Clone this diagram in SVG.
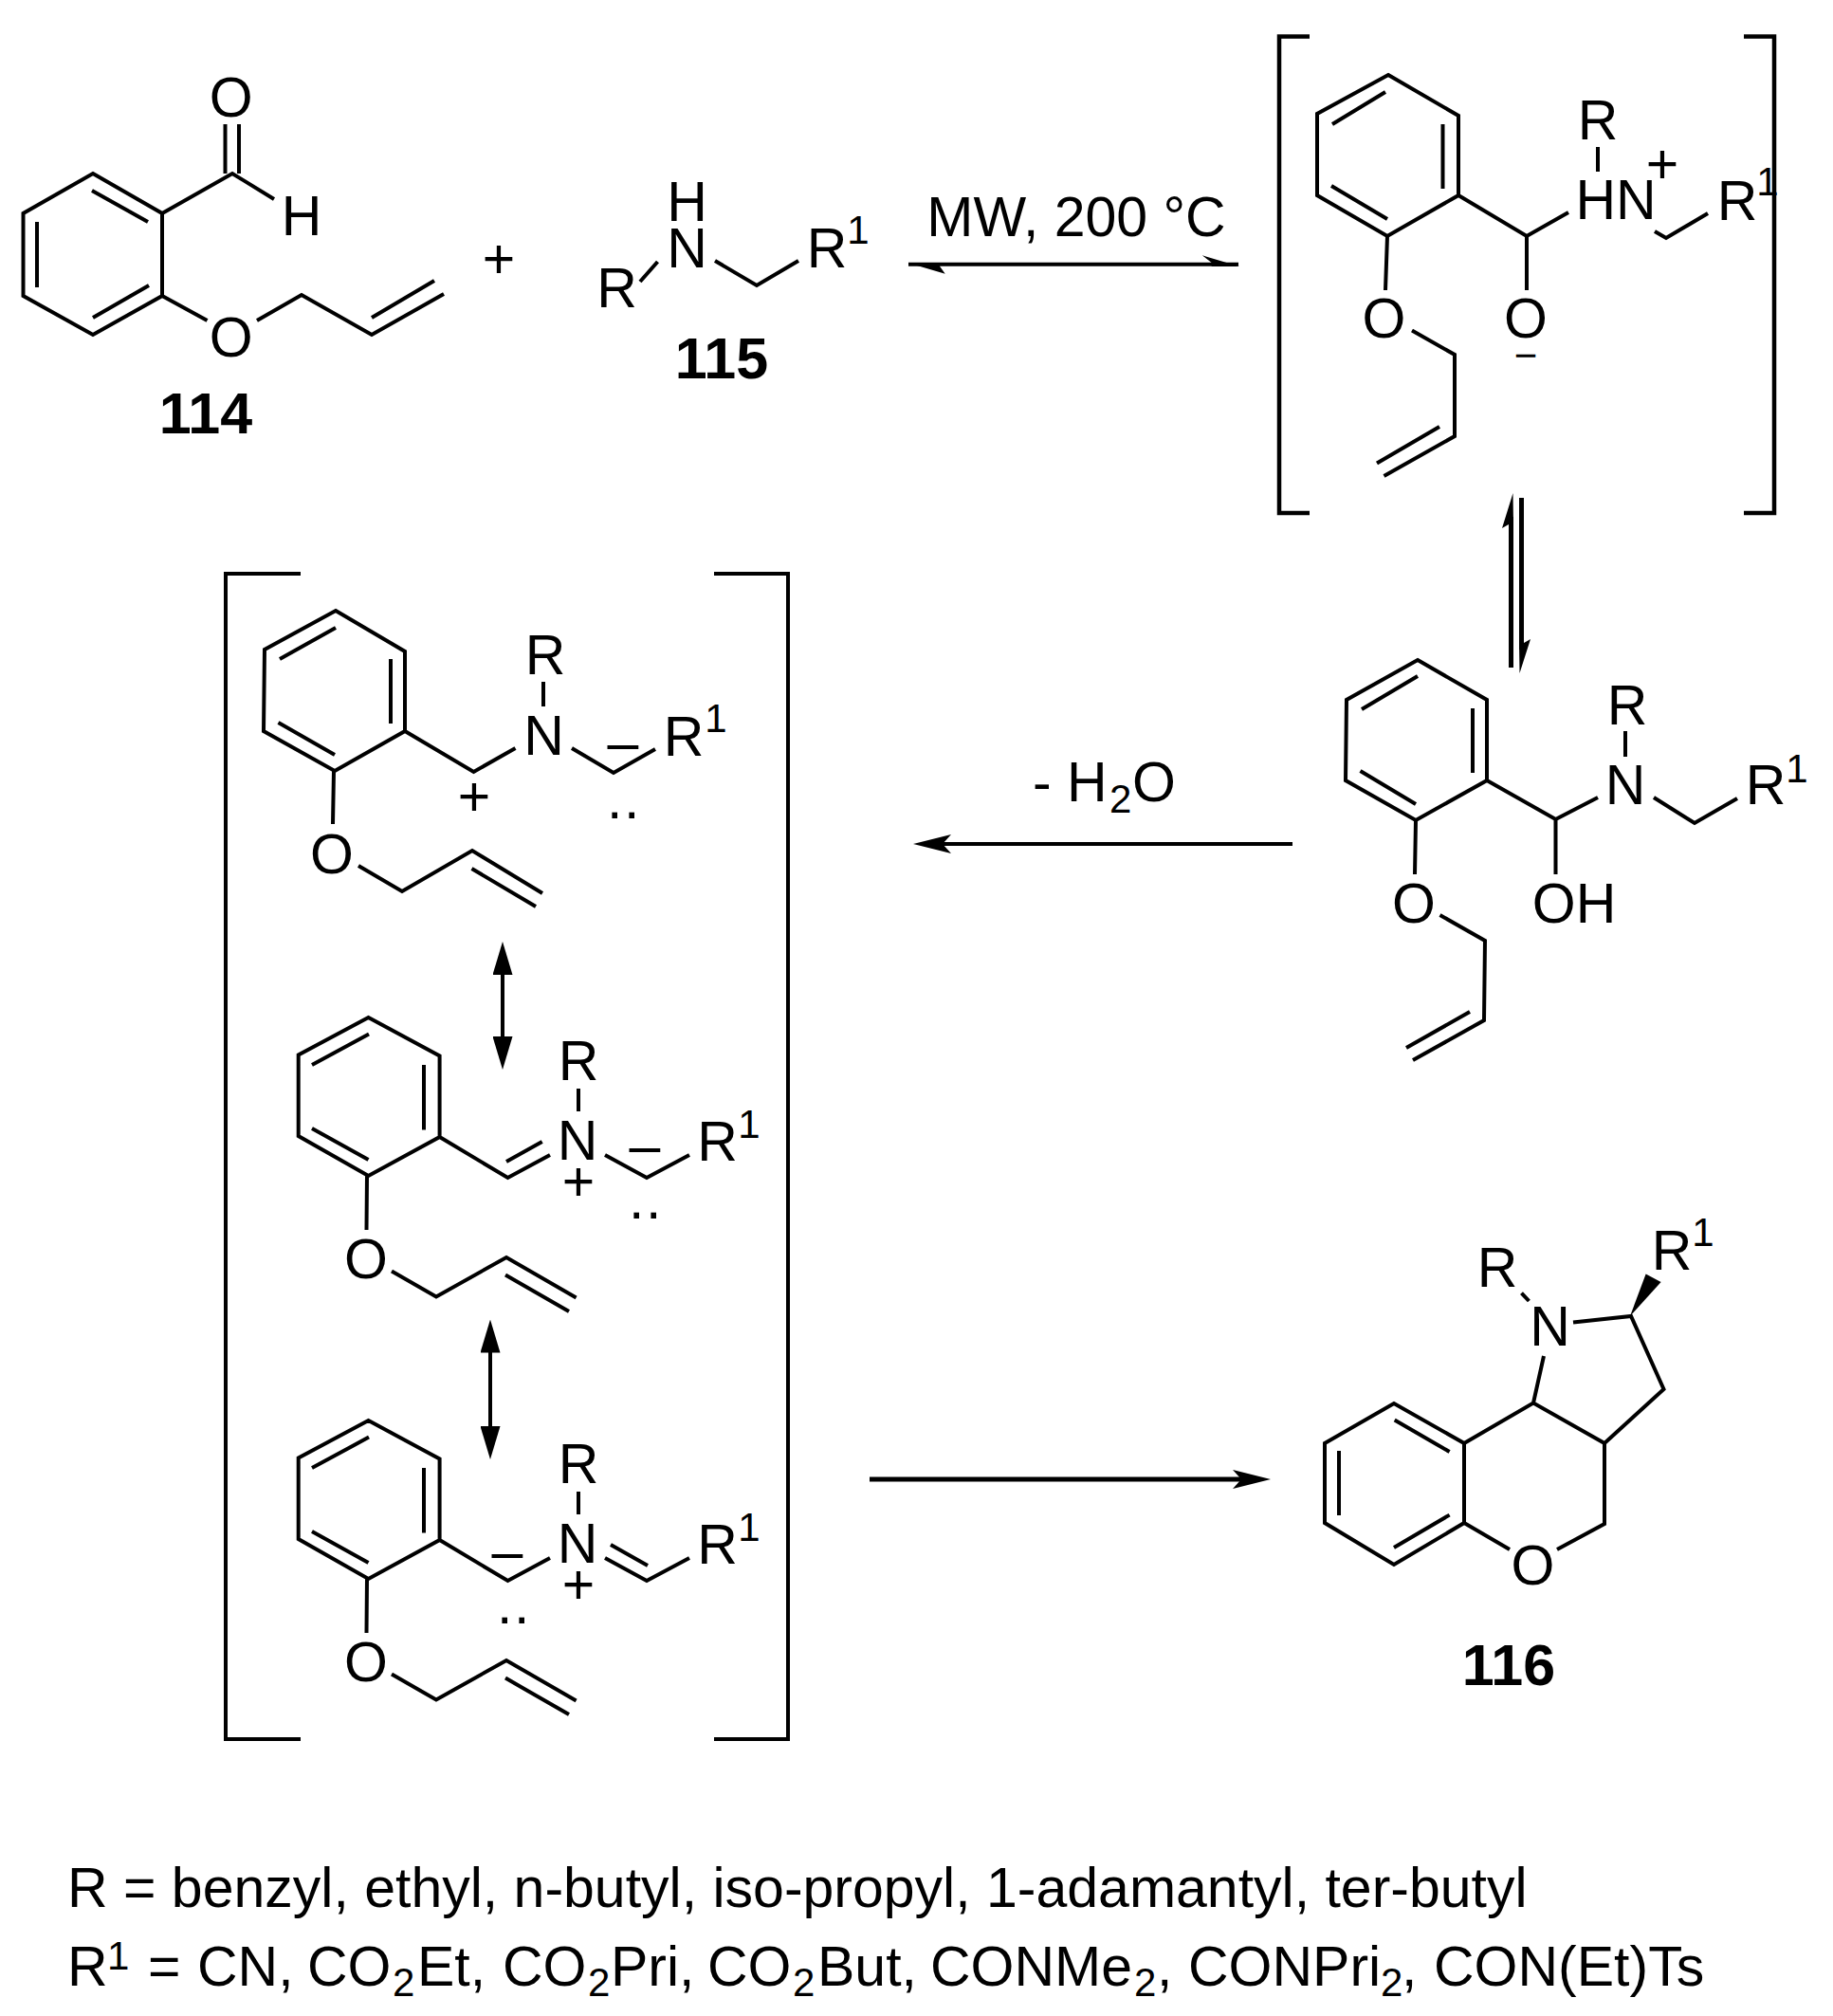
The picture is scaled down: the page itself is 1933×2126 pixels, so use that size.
<svg xmlns="http://www.w3.org/2000/svg" width="1933" height="2126" viewBox="0 0 1933 2126">
<style>
.b{fill:none;stroke:#000;stroke-width:4;stroke-linejoin:miter;stroke-linecap:butt}
.br{fill:none;stroke:#000;stroke-width:4.5;stroke-miterlimit:10}
.a{fill:none;stroke:#000;stroke-width:4}
.f{fill:#000;stroke:none}
text{font-family:"Liberation Sans",Arial,sans-serif;font-size:59px;fill:#000;text-anchor:middle}
.s{font-size:42px}
.l{font-weight:bold;font-size:61px}
.t{text-anchor:start}
.d{letter-spacing:1.5px}
</style>
<defs>
<marker id="head" markerUnits="userSpaceOnUse" markerWidth="40" markerHeight="20" refX="9" refY="10" orient="auto"><path d="M0 0L40 10L0 20L9 10Z"/></marker>
<marker id="res" markerUnits="userSpaceOnUse" markerWidth="35" markerHeight="21" refX="1" refY="10.500" orient="auto-start-reverse"><path d="M0 0L35 10.500L0 21Z"/></marker>
</defs>
<rect width="1933" height="2126" fill="#fff"/>

<g id="connectors">
<path class="a" d="M958 278.700H1306"/>
<path class="f" d="M1307 281L1267.700 269.300L1277.700 277V281ZM957.700 277.300L996.700 288.700L991 280.700V277Z"/>
<path class="a" style="stroke-width:5" d="M1593.500 545V704M1604.500 525V685"/>
<path class="f" d="M1595.500 520L1584 557L1591 553H1596ZM1602.500 710L1614 674L1607 678H1602Z"/>
<path class="a" marker-end="url(#head)" d="M1363 890H994"/>
<path class="a" marker-start="url(#res)" marker-end="url(#res)" d="M530 1027V1094"/>
<path class="a" marker-start="url(#res)" marker-end="url(#res)" d="M517 1425.500V1505"/>
<path class="a" style="stroke-width:5" marker-end="url(#head)" d="M917 1560H1309"/>
</g>

<g id="n114">
<path class="b" d="M98 183L171 225V312L98 353L24.500 312V225ZM97 201L156 234M39 234V303M98 335L157 301M171 225L245 183L289 210M237.500 183V131M252 183V131M171 312L218.500 338M271 338L318 311L392 353L468 310M392 335L458 296"/>
<text x="243.600" y="123">O</text><text x="318" y="248">H</text><text x="243.600" y="376">O</text>
<text class="l" x="217" y="457">114</text>
</g>
<g id="plus"><text x="526" y="293">+</text></g>
<g id="n115">
<path class="b" d="M675 297L693.500 276M754 275L798 301L842 275"/>
<text x="650.500" y="324">R</text><text x="724.500" y="282">N</text><text x="724.500" y="233">H</text><text x="872" y="282">R</text><text class="s" x="905" y="257">1</text>
<text class="l" x="761" y="399">115</text>
</g>
<g id="reaction-label"><text x="1135" y="249">MW, 200 °C</text></g>

<g id="zwitterion">
<path class="br" d="M1381 38.500H1349V541H1381M1839 38.500H1871V541H1839"/>
<path class="b" d="M1464 79L1538 122V206L1463 249L1389 206V120ZM1461 97L1405 131M1521.500 131V199M1404 196L1463 231M1538 206L1610 249L1654 224M1610 249V306M1463 249L1461 306M1489 348.600L1534 374V460L1459.500 502M1518 450L1452 488.600M1685 155V181M1745 244L1757 251L1801 225"/>
<text x="1459.500" y="356">O</text><text x="1609" y="356">O</text><text class="s" x="1609" y="389">−</text>
<text x="1685" y="147">R</text><text x="1704" y="231">HN</text><text x="1753" y="193">+</text>
<text x="1832" y="232">R</text><text class="s" x="1864" y="206">1</text>
</g>

<g id="hemiaminal">
<path class="b" d="M1495 696L1568 738V823L1493 865L1419 823L1420 738ZM1495 713L1436 748M1553 747V815M1434.500 813L1493 848M1568 823L1640.500 864L1685 841M1640.500 864V922M1493 865L1492 922M1518.500 965L1566 992L1565 1076L1490 1118M1550 1067L1483 1105M1714 771V798M1744 841L1787 868L1832 842"/>
<text x="1491" y="973">O</text><text x="1660" y="973">OH</text>
<text x="1716" y="764">R</text><text x="1714" y="848">N</text><text x="1862" y="848">R</text><text class="s" x="1895" y="825">1</text>
</g>
<g id="water-label"><text class="t" x="1089" y="845">- H</text><text class="s t" x="1170" y="857">2</text><text class="t" x="1194" y="845">O</text></g>

<g id="iminium-bracket"><path class="br" style="stroke-width:4" d="M317 605H238V1834H317M753 605H831V1834H753"/></g>

<g id="resonance-a">
<path class="b" d="M354 644L427 687V771L353 813L278 771L279 685ZM354 662L295 695M412 695V763M293.500 762L353 796M427 771L499.500 814L543.500 789M352 813L351 869M378 913L424 940L498 897L572 942M497.500 916L565 956M573 719V745M603 789L647 815L691 790"/>
<text x="350" y="921">O</text><text x="575" y="711">R</text><text x="573.500" y="796">N</text><text x="721" y="797">R</text><text class="s" x="755" y="772">1</text>
<text x="500" y="860">+</text><text x="657" y="803">–</text><text class="d" x="658" y="863">..</text>
</g>

<g id="resonance-b">
<path class="b" d="M388.500 1073L463.600 1113.500V1199L388.500 1240L314.700 1198V1112.500ZM389 1090.600L329 1123M447 1123V1191.600M329 1190L388.500 1223M463.600 1199L535.500 1242L580 1218M571.700 1204L534 1225M387 1240L386.500 1297M413 1340.500L460 1367.500L534 1326L607.600 1368.500M533 1344.600L600 1383M610 1148V1172M638 1218L682 1242L727 1218"/>
<text x="386" y="1348">O</text><text x="610" y="1139">R</text><text x="609" y="1223">N</text><text x="756.500" y="1224">R</text><text class="s" x="790" y="1200">1</text>
<text x="610" y="1266">+</text><text x="680" y="1228">–</text><text class="d" x="681" y="1285">..</text>
</g>

<g id="resonance-c">
<path class="b" d="M388.500 1498L463.600 1538.500V1624L388.500 1665L314.700 1623V1537.500ZM389 1515.600L329 1548M447 1548V1616.600M329 1615L388.500 1648M463.600 1624L535.500 1667L580 1643M387 1665L386.500 1722M413 1765.500L460 1792.500L534 1751L607.600 1793.500M533 1769.600L600 1808M610 1573V1597M638 1643L682 1667L727 1643M644 1629L683 1651"/>
<text x="386" y="1773">O</text><text x="610" y="1564">R</text><text x="609" y="1648">N</text><text x="756.500" y="1649">R</text><text class="s" x="790" y="1625">1</text>
<text x="610" y="1691">+</text><text x="535" y="1656">–</text><text class="d" x="542" y="1712">..</text>
</g>

<g id="n116">
<path class="b" d="M1397 1522L1470 1480L1544 1522V1606L1470 1650L1397 1606ZM1470.700 1497.600L1528.600 1531M1412 1530V1598M1470 1632L1528.600 1597.600M1544 1522L1617 1479.500L1692 1522V1607L1642 1634M1544 1606L1592 1634M1617 1479.500L1628 1430M1604.500 1363.600L1612.400 1372M1659 1394.600L1720 1388L1754.500 1465L1692 1522"/>
<path class="f" d="M1719 1388L1735.600 1343.600L1751.600 1352Z"/>
<text x="1616.500" y="1671">O</text><text x="1634.500" y="1419">N</text><text x="1579" y="1357">R</text><text x="1763" y="1339">R</text><text class="s" x="1796" y="1314">1</text>
<text class="l" x="1591" y="1777">116</text>
</g>

<g id="legend">
<text class="t" x="71" y="2011">R = benzyl, ethyl, n-butyl, iso-propyl, 1-adamantyl, ter-butyl</text>
<text class="t" x="71" y="2094">R</text><text class="s t" x="113" y="2077">1</text><text class="t" x="156" y="2094">=</text>
<text class="t" x="208" y="2094">CN,</text>
<text class="t" x="324" y="2094">CO</text><text class="s t" x="414" y="2105">2</text><text class="t" x="440" y="2094">Et,</text>
<text class="t" x="530" y="2094">CO</text><text class="s t" x="620" y="2105">2</text><text class="t" x="644" y="2094">Pri,</text>
<text class="t" x="746" y="2094">CO</text><text class="s t" x="836" y="2105">2</text><text class="t" x="862" y="2094">But,</text>
<text class="t" x="981" y="2094">CONMe</text><text class="s t" x="1196" y="2105">2</text><text class="t" x="1220" y="2094">,</text>
<text class="t" x="1253" y="2094">CONPri</text><text class="s t" x="1456" y="2105">2</text><text class="t" x="1478" y="2094">,</text>
<text class="t" x="1512" y="2094">CON(Et)Ts</text>
</g>
</svg>
